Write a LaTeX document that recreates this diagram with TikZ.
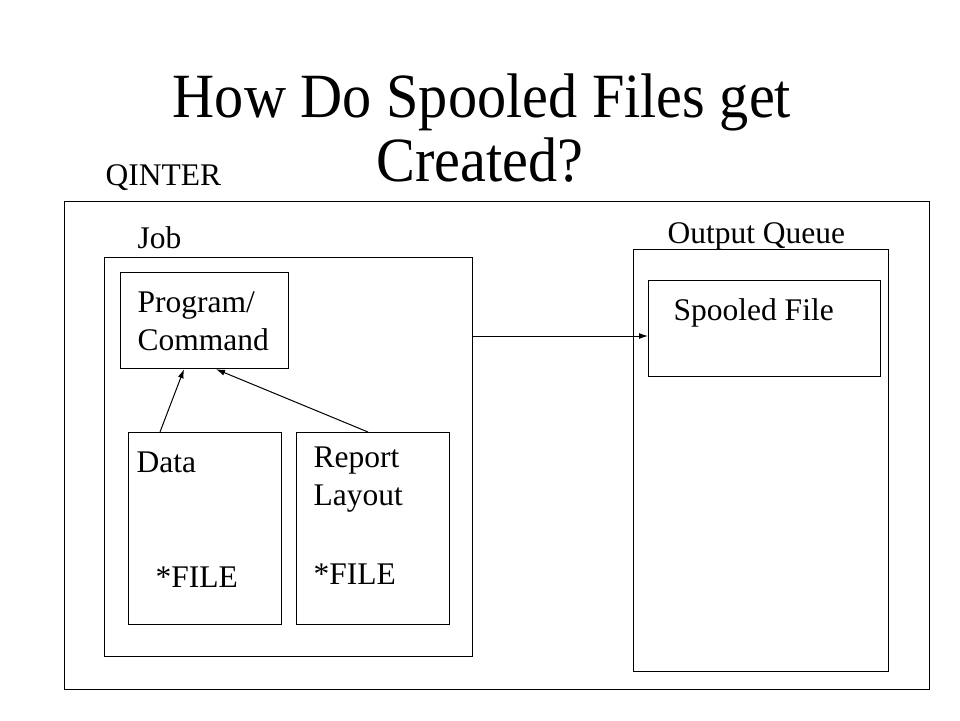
\documentclass[tikz,border=0pt]{standalone}
\usepackage{fontspec}
\setmainfont{Liberation Serif}
\usetikzlibrary{arrows.meta}

\begin{document}
\begin{tikzpicture}[x=1pt, y=-1pt,
  every node/.style={inner sep=0pt, font=\fontsize{31.5}{38}\selectfont},
  line width=1.2pt
]
\tikzset{
  caixa/.style={draw=black, anchor=north west},
  texto/.style={anchor=base west},
  titulo/.style={anchor=base, font=\fontsize{63}{66}\selectfont},
  seta/.style={-{Latex[length=9pt,width=6pt]}, line width=1pt}
}
\useasboundingbox (0,0) rectangle (960,720);

\node[titulo] (t1) at (482,117) {\scalebox{0.925}[1]{How Do Spooled Files get}};
\node[titulo] (t2) at (480,181) {\scalebox{0.925}[1]{Created?}};

\node[caixa, minimum width=865pt, minimum height=488pt] (qinter) at (64,201) {};
\node[caixa, minimum width=368pt, minimum height=399pt] (job) at (104,257) {};
\node[caixa, minimum width=168pt, minimum height=96pt] (prog) at (120,272) {};
\node[caixa, minimum width=153pt, minimum height=192pt] (data) at (128,432) {};
\node[caixa, minimum width=153pt, minimum height=192pt] (report) at (296,432) {};
\node[caixa, minimum width=255pt, minimum height=422pt] (fila) at (633,249) {};
\node[caixa, minimum width=232pt, minimum height=96pt] (spool) at (648,280) {};

\node[texto] (lqinter) at (105,185) {QINTER};
\node[texto] (ljob) at (137,248) {Job};
\node[texto] (lfila) at (667,243) {Output Queue};
\node[texto] (lspool) at (673,320) {Spooled File};
\node[texto] (lprog) at (137,312) {Program/};
\node[texto] (lcmd) at (137,350) {Command};
\node[texto] (ldata) at (136,472) {Data};
\node[texto] (fdata) at (155,587) {*FILE};
\node[texto] (lrep) at (313,467) {Report};
\node[texto] (llay) at (313,505) {Layout};
\node[texto] (frep) at (313,584) {*FILE};

\draw[seta] ([xshift=32pt]data.north west) -- ([xshift=64pt]prog.south west);
\draw[seta] ([xshift=72pt]report.north west) -- ([xshift=96pt]prog.south west);
\draw[seta] ([yshift=-79pt]job.north east) -- ([yshift=-56pt]spool.north west);
\end{tikzpicture}
\end{document}
